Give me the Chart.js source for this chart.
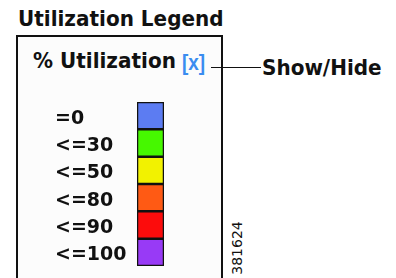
<!DOCTYPE html>
<html>
<head>
<meta charset="utf-8">
<script src="https://cdn.jsdelivr.net/npm/chart.js@4.4.1/dist/chart.umd.min.js"></script>
<style>
  html, body { margin:0; padding:0; background:#fff; width:396px; height:278px; overflow:hidden; }
  .t { position:absolute; font-family:"DejaVu Sans", sans-serif; font-weight:bold; line-height:1; white-space:nowrap; color:#111; }
  #box { position:absolute; left:16px; top:35px; width:207px; height:260px; box-sizing:border-box; border:2px solid #111; background:#fcfcfc; }
  #conn { position:absolute; left:211px; top:67px; width:50px; height:1px; background:#111; }
  #c { position:absolute; left:0; top:0; }
</style>
</head>
<body>
<div id="box"></div>
<div class="t" style="left:18px; top:9px; font-size:20px; transform:scaleY(1.05); transform-origin:left bottom;">Utilization Legend</div>
<div class="t" style="left:33px; top:51px; font-size:20px; transform:scaleY(1.08); transform-origin:left bottom;">% Utilization</div>
<div class="t" style="left:182px; top:52px; font-size:22px; font-family:'Liberation Sans', Arial, sans-serif; color:#3a8cf0; transform:scaleX(0.86); transform-origin:left top;">[x]</div>
<div id="conn"></div>
<div class="t" style="left:262px; top:58px; font-size:20px; transform:scaleY(1.05); transform-origin:left bottom;">Show/Hide</div>
<div class="t" style="left:237px; top:248px; font-size:14px; font-weight:normal; transform:translate(-50%,-50%) rotate(-90deg);">381624</div>
<canvas id="c" width="396" height="278"></canvas>
<script>
const categories = ['=0', '<=30', '<=50', '<=80', '<=90', '<=100'];
const swatchValues = [1, 1, 1, 1, 1, 1];
const swatchColors = ['#5c7cf2', '#46f800', '#f2f200', '#ff5a14', '#fc0c0c', '#983af6'];

new Chart(document.getElementById('c'), {
  type: 'bar',
  data: {
    labels: categories,
    datasets: [{
      data: swatchValues,
      backgroundColor: swatchColors,
      borderColor: '#111',
      borderWidth: 1.6,
      borderSkipped: false,
      barPercentage: 1,
      categoryPercentage: 1
    }]
  },
  options: {
    indexAxis: 'y',
    responsive: false,
    animation: false,
    events: [],
    layout: { padding: { left: 55, right: 232, top: 102, bottom: 12 } },
    plugins: { legend: { display: false }, tooltip: { enabled: false }, title: { display: false } },
    scales: {
      x: { display: false, min: 0, max: 1 },
      y: {
        border: { display: false },
        grid: { display: false, drawTicks: false },
        ticks: {
          crossAlign: 'far',
          color: '#111',
          padding: 0,
          labelOffset: 3,
          font: { family: 'DejaVu Sans', weight: 'bold', size: 19 }
        },
        afterFit: (s) => { s.width = 82; }
      }
    }
  }
});
</script>
</body>
</html>
